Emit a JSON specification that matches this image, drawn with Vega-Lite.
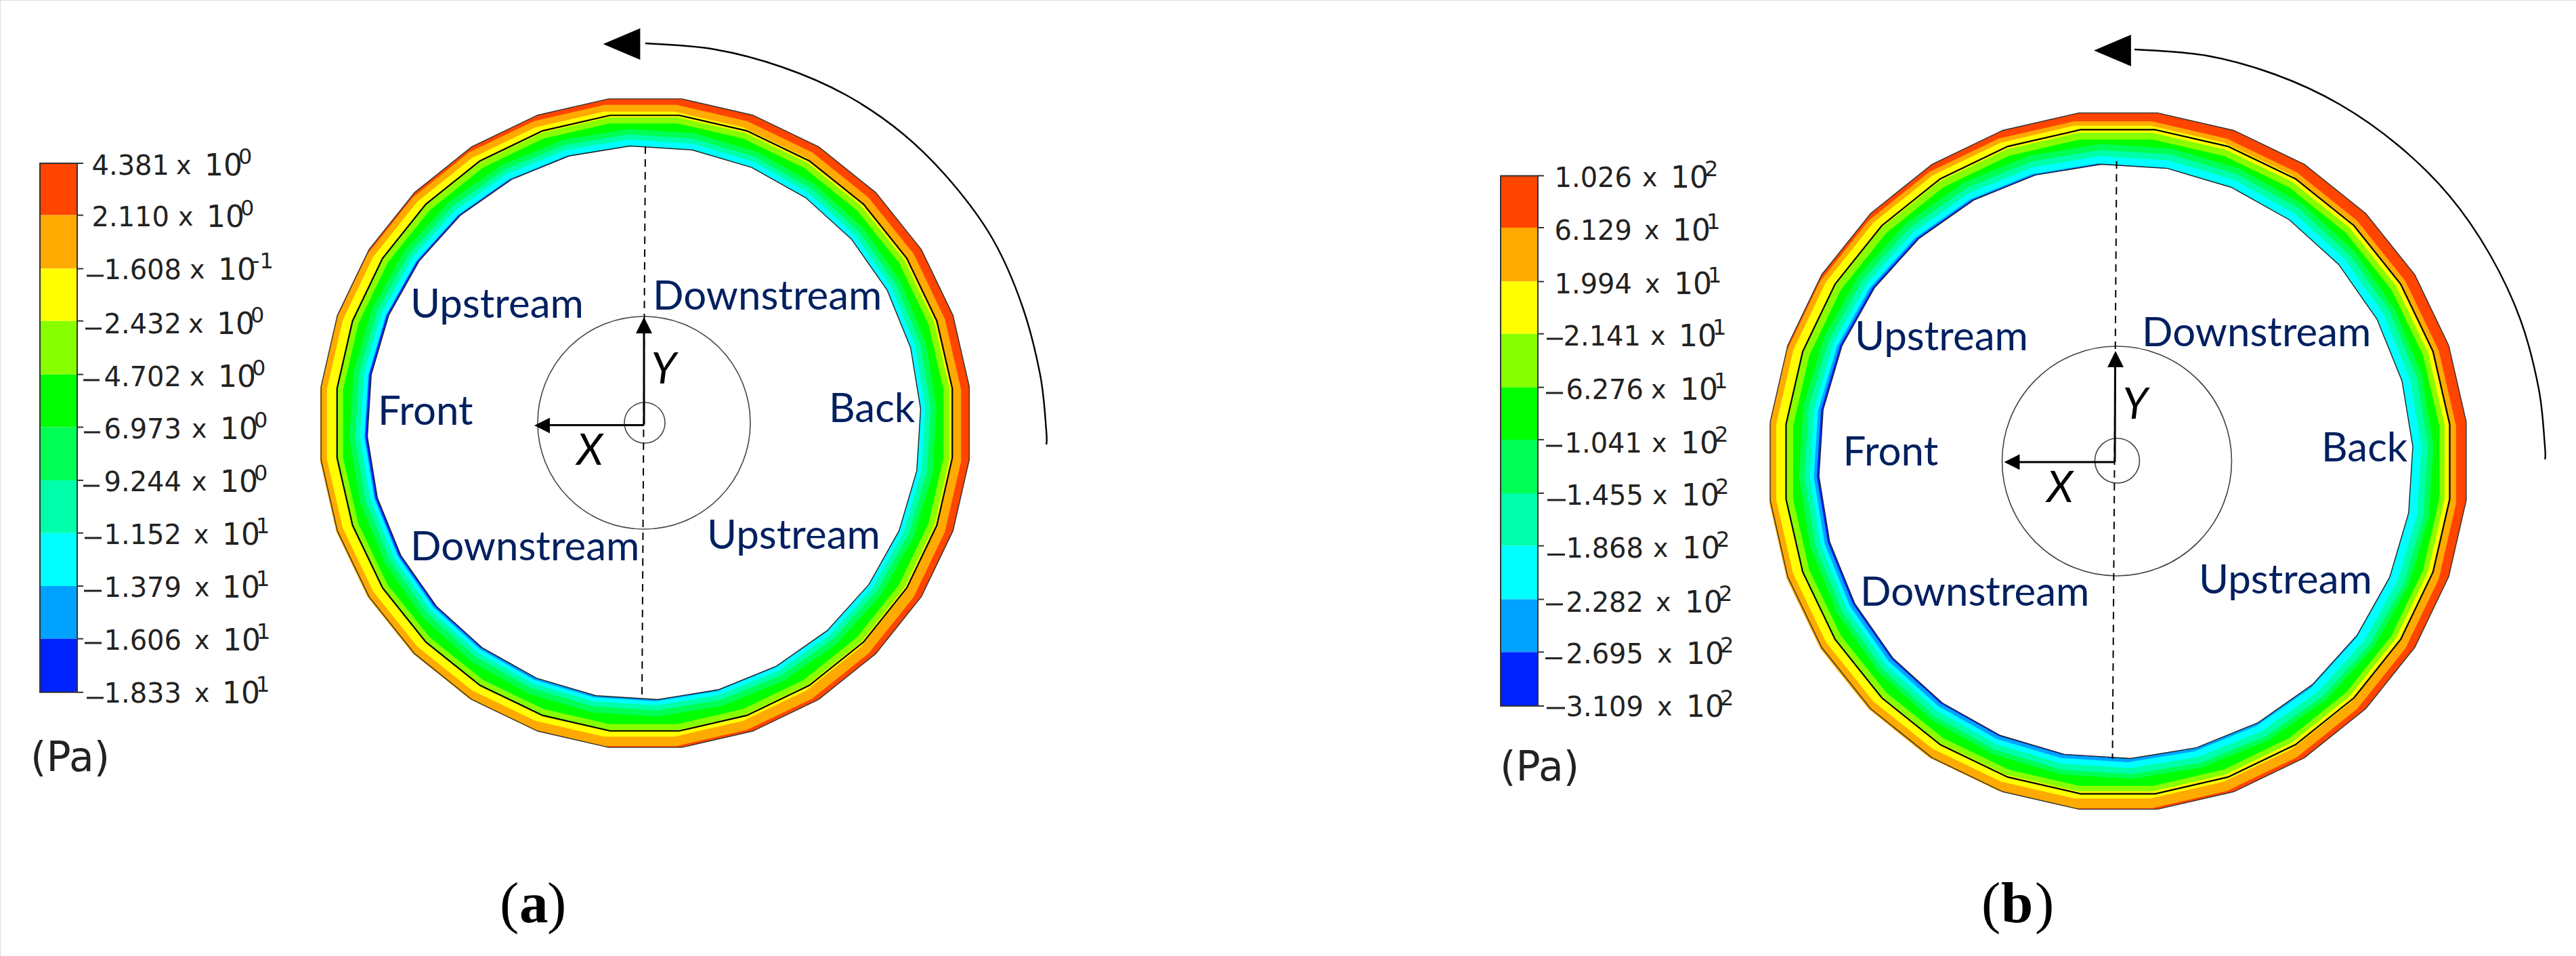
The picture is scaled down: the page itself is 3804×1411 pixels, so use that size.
{
"$schema":"https://vega.github.io/schema/vega-lite/v6.json",
"width":3804,"height":1411,"autosize":{"type":"none"},"padding":0,"background":"white",
"datasets":{
"contours":[
{"band":1,"level":"L1","x":952.75,"y":624.5,"r":481.5},
{"band":2,"level":"L2","x":946,"y":628,"r":476},
{"band":3,"level":"L3","x":944,"y":626,"r":464},
{"band":4,"level":"L4","x":950,"y":625.5,"r":455},
{"band":5,"level":"L5","x":950,"y":625.5,"r":446},
{"band":6,"level":"L6","x":949.5,"y":624,"r":434},
{"band":7,"level":"L7","x":949.5,"y":623.5,"r":425.5},
{"band":8,"level":"L8","x":949,"y":623.5,"r":418},
{"band":9,"level":"L9","x":948,"y":625,"r":410.5},
{"band":10,"level":"L10","x":947,"y":624,"r":408},
{"band":11,"level":"none","x":951,"y":624,"r":409},
{"band":1,"level":"L1","x":3128,"y":680.5,"r":517},
{"band":2,"level":"L2","x":3120,"y":686,"r":510},
{"band":3,"level":"L3","x":3119.5,"y":682,"r":499.5},
{"band":4,"level":"L4","x":3124,"y":682,"r":489},
{"band":5,"level":"L5","x":3125,"y":683,"r":480},
{"band":6,"level":"L6","x":3125,"y":681,"r":469},
{"band":7,"level":"L7","x":3125,"y":682,"r":461},
{"band":8,"level":"L8","x":3124,"y":682,"r":452},
{"band":9,"level":"L9","x":3120.5,"y":683,"r":442.5},
{"band":10,"level":"L10","x":3122,"y":681,"r":439.5},
{"band":11,"level":"none","x":3124.5,"y":681,"r":439}
],
"edgesOuter":[{"x":952.75,"y":624.5,"r":481.5},{"x":3128,"y":680.5,"r":517}],
"edgesInner":[{"x":951,"y":624,"r":409},{"x":3124.5,"y":681,"r":439}],
"zero":[{"x":952,"y":624.5,"r":457},{"x":3127.5,"y":681.5,"r":493}],
"rounds":[
{"x":951,"y":624,"r":157},{"x":952,"y":624,"r":30},
{"x":3126,"y":680.5,"r":169.5},{"x":3126.5,"y":680,"r":33}
],
"bar":[
{"level":"L1","x":59,"x2":114,"y":241,"y2":317.6},
{"level":"L2","x":59,"x2":114,"y":317.6,"y2":396.6},
{"level":"L3","x":59,"x2":114,"y":396.6,"y2":473.7},
{"level":"L4","x":59,"x2":114,"y":473.7,"y2":552.7},
{"level":"L5","x":59,"x2":114,"y":552.7,"y2":630.5},
{"level":"L6","x":59,"x2":114,"y":630.5,"y2":708.9},
{"level":"L7","x":59,"x2":114,"y":708.9,"y2":786.7},
{"level":"L8","x":59,"x2":114,"y":786.7,"y2":865},
{"level":"L9","x":59,"x2":114,"y":865,"y2":942.8},
{"level":"L10","x":59,"x2":114,"y":942.8,"y2":1021.8},
{"level":"L1","x":2216,"x2":2271,"y":259.4,"y2":336},
{"level":"L2","x":2216,"x2":2271,"y":336,"y2":415.6},
{"level":"L3","x":2216,"x2":2271,"y":415.6,"y2":492.7},
{"level":"L4","x":2216,"x2":2271,"y":492.7,"y2":571.7},
{"level":"L5","x":2216,"x2":2271,"y":571.7,"y2":648.9},
{"level":"L6","x":2216,"x2":2271,"y":648.9,"y2":727.9},
{"level":"L7","x":2216,"x2":2271,"y":727.9,"y2":805.6},
{"level":"L8","x":2216,"x2":2271,"y":805.6,"y2":884.6},
{"level":"L9","x":2216,"x2":2271,"y":884.6,"y2":962.4},
{"level":"L10","x":2216,"x2":2271,"y":962.4,"y2":1042}
],
"barFrames":[{"x":59,"x2":114,"y":241,"y2":1021.8},{"x":2216,"x2":2271,"y":259.4,"y2":1042}],
"ticks":[
{"x":114,"x2":123,"y":241},{"x":114,"x2":123,"y":317.6},{"x":114,"x2":123,"y":396.6},{"x":114,"x2":123,"y":473.7},{"x":114,"x2":123,"y":552.7},{"x":114,"x2":123,"y":630.5},{"x":114,"x2":123,"y":708.9},{"x":114,"x2":123,"y":786.7},{"x":114,"x2":123,"y":865},{"x":114,"x2":123,"y":942.8},{"x":114,"x2":123,"y":1021.8},
{"x":2271,"x2":2280,"y":259.4},{"x":2271,"x2":2280,"y":336},{"x":2271,"x2":2280,"y":415.6},{"x":2271,"x2":2280,"y":492.7},{"x":2271,"x2":2280,"y":571.7},{"x":2271,"x2":2280,"y":648.9},{"x":2271,"x2":2280,"y":727.9},{"x":2271,"x2":2280,"y":805.6},{"x":2271,"x2":2280,"y":884.6},{"x":2271,"x2":2280,"y":962.4},{"x":2271,"x2":2280,"y":1042}
],
"labels":[
{"num":"4.381","nx":250,"xx":260,"tx":302,"exp":"0","y":246},
{"num":"2.110","nx":250,"xx":263,"tx":305,"exp":"0","y":322},
{"num":"1.608","nx":268,"xx":280,"tx":322,"exp":"-1","y":400},
{"num":"2.432","nx":268,"xx":278,"tx":320,"exp":"0","y":480},
{"num":"4.702","nx":268,"xx":280,"tx":322,"exp":"0","y":558},
{"num":"6.973","nx":268,"xx":283,"tx":325,"exp":"0","y":635},
{"num":"9.244","nx":268,"xx":283,"tx":325,"exp":"0","y":713},
{"num":"1.152","nx":268,"xx":286,"tx":328,"exp":"1","y":791},
{"num":"1.379","nx":268,"xx":287,"tx":328,"exp":"1","y":869},
{"num":"1.606","nx":268,"xx":287,"tx":329,"exp":"1","y":947},
{"num":"1.833","nx":268,"xx":287,"tx":328,"exp":"1","y":1025},
{"num":"1.026","nx":2410,"xx":2425,"tx":2467,"exp":"2","y":264},
{"num":"6.129","nx":2410,"xx":2428,"tx":2470,"exp":"1","y":342},
{"num":"1.994","nx":2410,"xx":2429,"tx":2472,"exp":"1","y":420.5},
{"num":"2.141","nx":2423,"xx":2437,"tx":2479,"exp":"1","y":498},
{"num":"6.276","nx":2427,"xx":2438,"tx":2481,"exp":"1","y":576.6},
{"num":"1.041","nx":2425,"xx":2439,"tx":2482,"exp":"2","y":656},
{"num":"1.455","nx":2427,"xx":2440,"tx":2483,"exp":"2","y":733},
{"num":"1.868","nx":2427,"xx":2441,"tx":2484,"exp":"2","y":810.5},
{"num":"2.282","nx":2427,"xx":2445,"tx":2488,"exp":"2","y":890.7},
{"num":"2.695","nx":2427,"xx":2447,"tx":2490,"exp":"2","y":967.3},
{"num":"3.109","nx":2427,"xx":2447,"tx":2490,"exp":"2","y":1045}
],
"minus":[
{"x":128,"x2":153,"y":407},{"x":126,"x2":150,"y":485},{"x":123,"x2":147,"y":561},{"x":124,"x2":148,"y":638},{"x":123,"x2":147,"y":717},{"x":125,"x2":150,"y":794},{"x":124,"x2":150,"y":872},{"x":125,"x2":150,"y":949},{"x":128,"x2":153,"y":1030},
{"x":2284,"x2":2308,"y":500},{"x":2283,"x2":2308,"y":580},{"x":2283,"x2":2307,"y":658},{"x":2285,"x2":2312,"y":738},{"x":2285,"x2":2311,"y":818.5},{"x":2283,"x2":2308,"y":892},{"x":2282,"x2":2307,"y":971.6},{"x":2284,"x2":2311,"y":1045}
],
"blue":[
{"t":"Upstream","x":606,"y":469},{"t":"Downstream","x":964,"y":457},{"t":"Front","x":558,"y":627},{"t":"Back","x":1224,"y":623},{"t":"Downstream","x":606,"y":827},{"t":"Upstream","x":1044,"y":809.5},
{"t":"Upstream","x":2739,"y":517},{"t":"Downstream","x":3163,"y":510.6},{"t":"Front","x":2721.6,"y":687},{"t":"Back","x":3428,"y":681},{"t":"Downstream","x":2747,"y":894},{"t":"Upstream","x":3247,"y":876}
],
"axisNames":[
{"t":"Y","x":980,"y":547},{"t":"X","x":871,"y":667},{"t":"Y","x":3153,"y":599},{"t":"X","x":3042,"y":722}
],
"units":[{"t":"(Pa)","x":45,"y":1120},{"t":"(Pa)","x":2215,"y":1134}],
"capPlain":[{"t":"(","x":738,"y":1361},{"t":")","x":808,"y":1361},{"t":"(","x":2926,"y":1361},{"t":")","x":3005,"y":1361}],
"capBold":[{"t":"a","x":767,"y":1361},{"t":"b","x":2955,"y":1361}],
"dashes":[{"x":953,"y":216,"x2":948,"y2":1030},{"x":3125.6,"y":238,"x2":3119.5,"y2":1120}],
"shafts":[
{"x":951,"y":627,"x2":951,"y2":480},{"x":951,"y":627.5,"x2":805,"y2":627.5},
{"x":3123,"y":682,"x2":3123.5,"y2":530},{"x":3123,"y":682,"x2":2975,"y2":682}
],
"rotation":[
{"c":"a","k":0,"x":953,"y":64},{"c":"a","k":1,"x":1056,"y":73},{"c":"a","k":2,"x":1155,"y":99},{"c":"a","k":3,"x":1249,"y":140},{"c":"a","k":4,"x":1334,"y":198},{"c":"a","k":5,"x":1406,"y":270},{"c":"a","k":6,"x":1466,"y":353},{"c":"a","k":7,"x":1509,"y":450},{"c":"a","k":8,"x":1536,"y":553},{"c":"a","k":9,"x":1545,"y":635},{"c":"a","k":10,"x":1545,"y":656},
{"c":"b","k":0,"x":3152,"y":73},{"c":"b","k":1,"x":3258,"y":82},{"c":"b","k":2,"x":3360,"y":110},{"c":"b","k":3,"x":3455,"y":154},{"c":"b","k":4,"x":3542,"y":215},{"c":"b","k":5,"x":3617,"y":289},{"c":"b","k":6,"x":3677,"y":376},{"c":"b","k":7,"x":3722,"y":472},{"c":"b","k":8,"x":3749,"y":574},{"c":"b","k":9,"x":3758,"y":658},{"c":"b","k":10,"x":3758,"y":678}
],
"headRotation":[{"x":918,"y":65},{"x":3119.5,"y":74.5}],
"headUp":[{"x":951,"y":480},{"x":3124,"y":530}],
"headLeft":[{"x":800.5,"y":628},{"x":2971,"y":682}]
},
"data":{"name":"contours"},
"encoding":{
"x":{"field":"x","type":"quantitative","axis":null,"scale":{"domain":[0,3804],"range":[0,3804],"nice":false,"zero":false}},
"y":{"field":"y","type":"quantitative","axis":null,"scale":{"domain":[0,1411],"range":[0,1411],"nice":false,"zero":false}}
},
"layer":[
{"data":{"name":"contours"},
"transform":[{"filter":"datum.band<6"}],
"mark":{"type":"point","filled":true,"opacity":1,"strokeWidth":0,"shape":"M0.112,-0.994L0.330,-0.944L0.532,-0.847L0.707,-0.707L0.847,-0.532L0.944,-0.330L0.994,-0.112L0.994,0.112L0.944,0.330L0.847,0.532L0.707,0.707L0.532,0.847L0.330,0.944L0.112,0.994L-0.112,0.994L-0.330,0.944L-0.532,0.847L-0.707,0.707L-0.847,0.532L-0.944,0.330L-0.994,0.112L-0.994,-0.112L-0.944,-0.330L-0.847,-0.532L-0.707,-0.707L-0.532,-0.847L-0.330,-0.944L-0.112,-0.994Z"},
"encoding":{
"size":{"field":"r","type":"quantitative","legend":null,"scale":{"type":"pow","exponent":2,"domain":[0,1000],"range":[0,4000000]}},
"color":{"field":"level","type":"nominal","legend":null,"scale":{"domain":["L1","L2","L3","L4","L5","L6","L7","L8","L9","L10","none"],"range":["#ff4500","#ffaa00","#ffff00","#88ff00","#00ff00","#00ff55","#00ffaa","#00ffff","#00a2ff","#0022ff","#ffffff"]}},
"order":{"field":"band","type":"quantitative"}
}},
{"data":{"name":"contours"},
"transform":[{"filter":"datum.band>=6"}],
"mark":{"type":"point","filled":true,"opacity":1,"strokeWidth":0,"shape":"M.1736,-.9848L.3884,-.9215L.5836,-.8121L.7497,-.6618L.8782,-.4783L.9626,-.2708L.9988,-.0498L.9848,.1736L.9215,.3884L.8121,.5836L.6618,.7497L.4783,.8782L.2708,.9626L.0498,.9988L-.1736,.9848L-.3884,.9215L-.5836,.8121L-.7497,.6618L-.8782,.4783L-.9626,.2708L-.9988,.0498L-.9848,-.1736L-.9215,-.3884L-.8121,-.5836L-.6618,-.7497L-.4783,-.8782L-.2708,-.9626L-.0498,-.9988Z"},
"encoding":{
"size":{"field":"r","type":"quantitative","legend":null},
"color":{"field":"level","type":"nominal","legend":null},
"order":{"field":"band","type":"quantitative"}
}},
{"data":{"name":"edgesOuter"},
"mark":{"type":"point","filled":false,"opacity":1,"stroke":"#333333","strokeWidth":1.4,"shape":"M0.112,-0.994L0.330,-0.944L0.532,-0.847L0.707,-0.707L0.847,-0.532L0.944,-0.330L0.994,-0.112L0.994,0.112L0.944,0.330L0.847,0.532L0.707,0.707L0.532,0.847L0.330,0.944L0.112,0.994L-0.112,0.994L-0.330,0.944L-0.532,0.847L-0.707,0.707L-0.847,0.532L-0.944,0.330L-0.994,0.112L-0.994,-0.112L-0.944,-0.330L-0.847,-0.532L-0.707,-0.707L-0.532,-0.847L-0.330,-0.944L-0.112,-0.994Z"},
"encoding":{"size":{"field":"r","type":"quantitative","legend":null}}},
{"data":{"name":"edgesInner"},
"mark":{"type":"point","filled":false,"opacity":1,"stroke":"#222222","strokeWidth":1.4,"shape":"M.1736,-.9848L.3884,-.9215L.5836,-.8121L.7497,-.6618L.8782,-.4783L.9626,-.2708L.9988,-.0498L.9848,.1736L.9215,.3884L.8121,.5836L.6618,.7497L.4783,.8782L.2708,.9626L.0498,.9988L-.1736,.9848L-.3884,.9215L-.5836,.8121L-.7497,.6618L-.8782,.4783L-.9626,.2708L-.9988,.0498L-.9848,-.1736L-.9215,-.3884L-.8121,-.5836L-.6618,-.7497L-.4783,-.8782L-.2708,-.9626L-.0498,-.9988Z"},
"encoding":{"size":{"field":"r","type":"quantitative","legend":null}}},
{"data":{"name":"zero"},
"mark":{"type":"point","filled":false,"opacity":1,"stroke":"#000000","strokeWidth":2.2,"shape":"M0.112,-0.994L0.330,-0.944L0.532,-0.847L0.707,-0.707L0.847,-0.532L0.944,-0.330L0.994,-0.112L0.994,0.112L0.944,0.330L0.847,0.532L0.707,0.707L0.532,0.847L0.330,0.944L0.112,0.994L-0.112,0.994L-0.330,0.944L-0.532,0.847L-0.707,0.707L-0.847,0.532L-0.944,0.330L-0.994,0.112L-0.994,-0.112L-0.944,-0.330L-0.847,-0.532L-0.707,-0.707L-0.532,-0.847L-0.330,-0.944L-0.112,-0.994Z"},
"encoding":{"size":{"field":"r","type":"quantitative","legend":null}}},
{"data":{"name":"rounds"},
"mark":{"type":"point","filled":false,"opacity":1,"shape":"circle","stroke":"#444444","strokeWidth":1.6},
"encoding":{"size":{"field":"r","type":"quantitative","legend":null}}},
{"data":{"name":"dashes"},
"mark":{"type":"rule","stroke":"#000000","strokeWidth":2,"strokeDash":[11,8]},
"encoding":{"x2":{"field":"x2"},"y2":{"field":"y2"}}},
{"data":{"name":"shafts"},
"mark":{"type":"rule","stroke":"#000000","strokeWidth":3},
"encoding":{"x2":{"field":"x2"},"y2":{"field":"y2"}}},
{"data":{"name":"headUp"},
"mark":{"type":"point","filled":true,"opacity":1,"color":"#000000","strokeWidth":0,"size":576,"shape":"M0,-1L1,1L-1,1Z"}},
{"data":{"name":"headLeft"},
"mark":{"type":"point","filled":true,"opacity":1,"color":"#000000","strokeWidth":0,"size":529,"shape":"M-1,0L1,-1L1,1Z"}},
{"data":{"name":"rotation"},
"mark":{"type":"line","stroke":"#000000","strokeWidth":2.4,"interpolate":"cardinal"},
"encoding":{"detail":{"field":"c"},"order":{"field":"k","type":"quantitative"}}},
{"data":{"name":"headRotation"},
"mark":{"type":"point","filled":true,"opacity":1,"color":"#000000","strokeWidth":0,"size":3000,"shape":"M-1,0L1,-0.85L1,0.85Z"}},
{"data":{"name":"bar"},
"mark":{"type":"rect"},
"encoding":{"x2":{"field":"x2"},"y2":{"field":"y2"},"color":{"field":"level","type":"nominal","legend":null}}},
{"data":{"name":"barFrames"},
"mark":{"type":"rect","filled":false,"stroke":"#333333","strokeWidth":2,"fillOpacity":0},
"encoding":{"x2":{"field":"x2"},"y2":{"field":"y2"}}},
{"data":{"name":"ticks"},
"mark":{"type":"rule","stroke":"#333333","strokeWidth":2},
"encoding":{"x2":{"field":"x2"}}},
{"data":{"name":"minus"},
"mark":{"type":"rule","stroke":"#222222","strokeWidth":3},
"encoding":{"x2":{"field":"x2"}}},
{"data":{"name":"labels"},
"mark":{"type":"text","font":"DejaVu Sans","fontSize":40,"align":"right","baseline":"middle","color":"#222222"},
"encoding":{"x":{"field":"nx","type":"quantitative"},"text":{"field":"num"}}},
{"data":{"name":"labels"},
"mark":{"type":"text","font":"DejaVu Sans","fontSize":38,"align":"left","baseline":"middle","color":"#222222","text":"x"},
"encoding":{"x":{"field":"xx","type":"quantitative"}}},
{"data":{"name":"labels"},
"mark":{"type":"text","font":"DejaVu Sans","fontSize":44,"align":"left","baseline":"middle","color":"#222222","text":"10"},
"encoding":{"x":{"field":"tx","type":"quantitative"}}},
{"data":{"name":"labels"},
"mark":{"type":"text","font":"DejaVu Sans","fontSize":32,"align":"left","baseline":"middle","color":"#222222","dx":50,"dy":-14},
"encoding":{"x":{"field":"tx","type":"quantitative"},"text":{"field":"exp"}}},
{"data":{"name":"units"},
"mark":{"type":"text","font":"DejaVu Sans","fontSize":60,"align":"left","baseline":"middle","color":"#222222"},
"encoding":{"text":{"field":"t"}}},
{"data":{"name":"blue"},
"mark":{"type":"text","font":"Lato","fontSize":60,"align":"left","baseline":"alphabetic","color":"#002060"},
"encoding":{"text":{"field":"t"}}},
{"data":{"name":"axisNames"},
"mark":{"type":"text","font":"Lato","fontStyle":"italic","fontSize":64,"align":"center","baseline":"middle","color":"#000000"},
"encoding":{"text":{"field":"t"}}},
{"data":{"name":"capPlain"},
"mark":{"type":"text","font":"Liberation Serif","fontSize":85,"align":"left","baseline":"alphabetic","color":"#000000"},
"encoding":{"text":{"field":"t"}}},
{"data":{"name":"capBold"},
"mark":{"type":"text","font":"Liberation Serif","fontWeight":"bold","fontSize":85,"align":"left","baseline":"alphabetic","color":"#000000"},
"encoding":{"text":{"field":"t"}}}
]
}
